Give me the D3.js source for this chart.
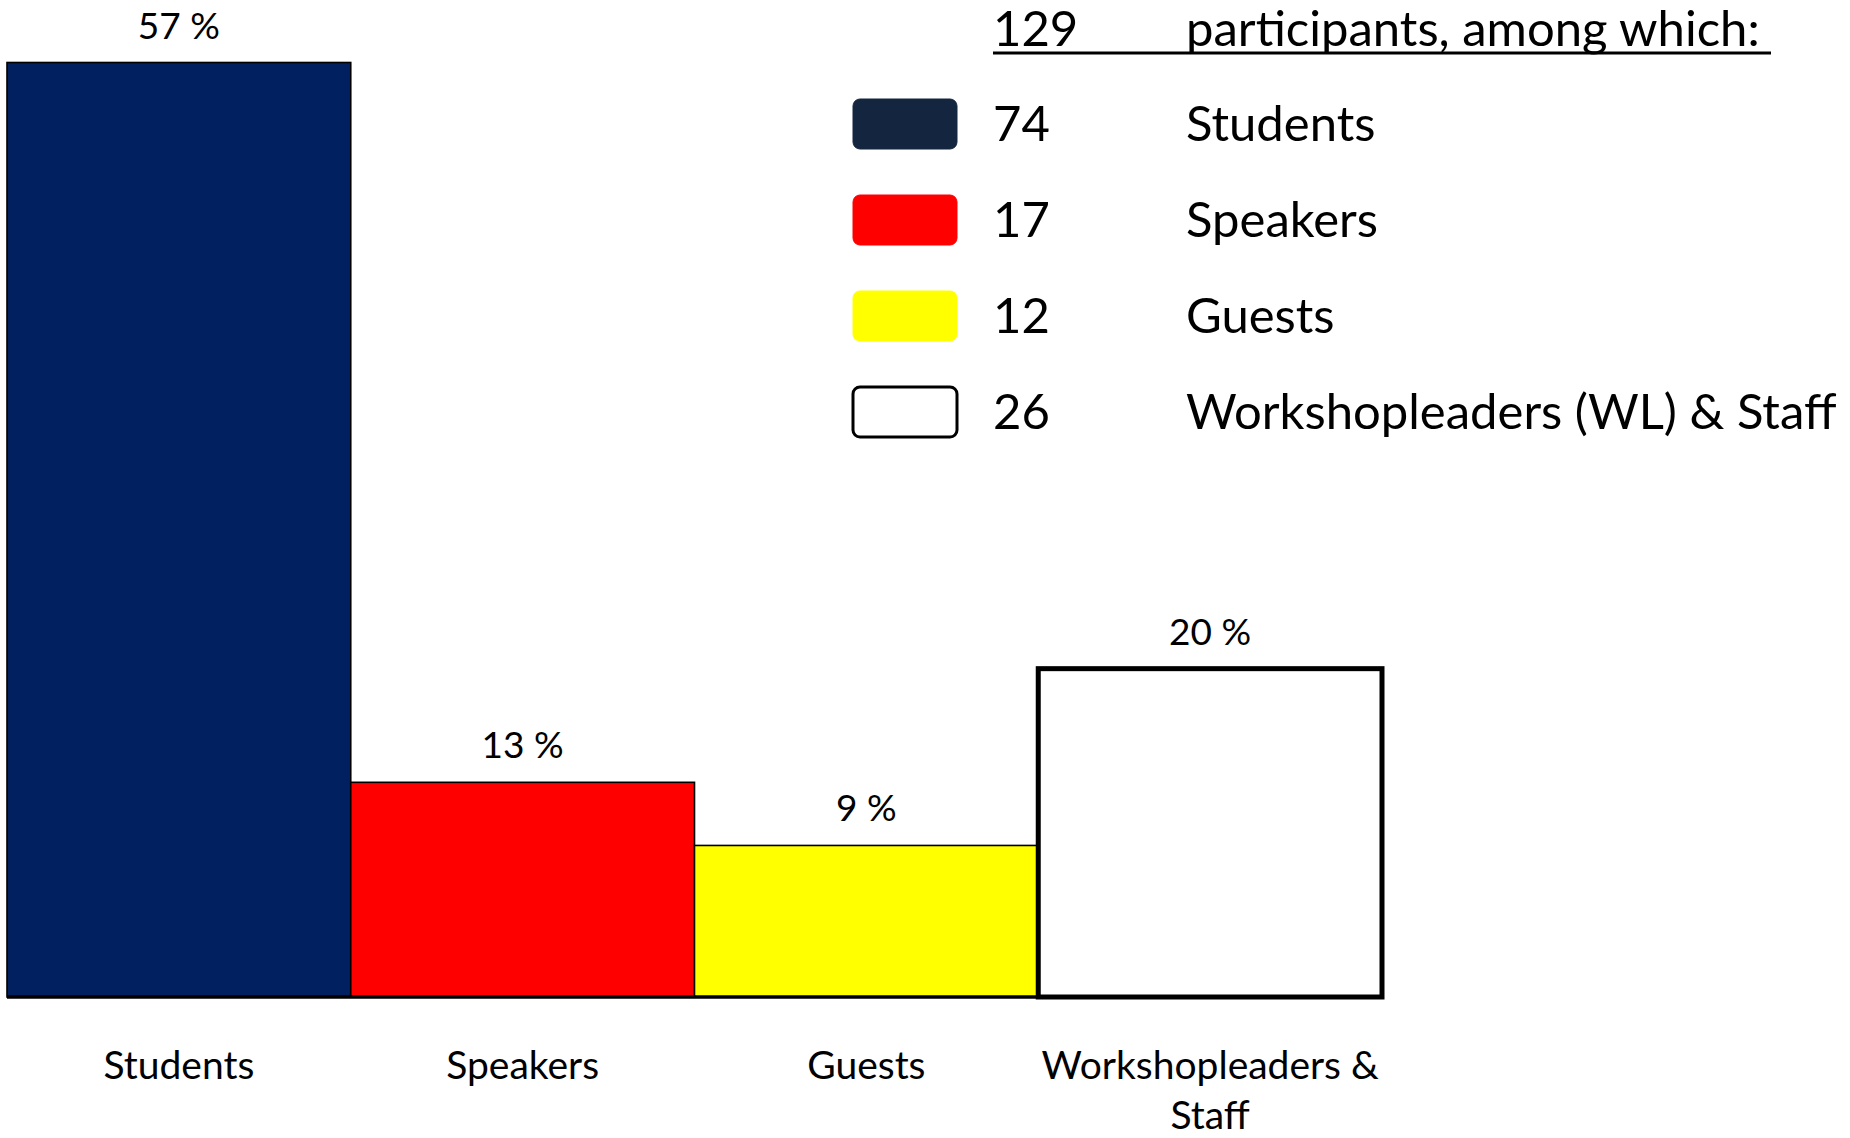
<!DOCTYPE html>
<html>
<head>
<meta charset="utf-8">
<script src="https://cdn.jsdelivr.net/npm/d3@7/dist/d3.min.js"></script>
<style>
  body { margin: 0; background: #fff; }
  svg { display: block; font-family: Lato, "Open Sans", sans-serif; }
</style>
</head>
<body>
<div id="chart"></div>
<script>
// data
var total = 129;
var categories = ["Students", "Speakers", "Guests", "Workshopleaders & Staff"];
var counts = [74, 17, 12, 26];
var tickLabels = [["Students"], ["Speakers"], ["Guests"], ["Workshopleaders &", "Staff"]];
var legendNames = ["Students", "Speakers", "Guests", "Workshopleaders (WL) & Staff"];
var headerText = "participants, among which:";

var barColours = ["#002060", "#ff0000", "#ffff00", "#ffffff"];
var legendColours = ["#14263f", "#ff0000", "#ffff00", "#ffffff"];

var width = 1850, height = 1138;
var baseY = 997;

var svg = d3.select("#chart").append("svg")
    .attr("width", width)
    .attr("height", height);

// set the ranges
var x = d3.scaleBand().domain(categories).range([7, 1382]).padding(0);
var y = d3.scaleLinear().domain([0, 74]).range([baseY, 62.5]);

var data = categories.map(function(c, i) {
  return {cat: c, count: counts[i], colour: barColours[i], ticks: tickLabels[i], last: i === 3};
});

// bars
svg.selectAll("rect.bar")
    .data(data)
  .enter().append("rect")
    .attr("class", "bar")
    .attr("x", function(d) { return x(d.cat); })
    .attr("y", function(d) { return y(d.count); })
    .attr("width", x.bandwidth())
    .attr("height", function(d) { return baseY - y(d.count); })
    .style("fill", function(d) { return d.colour; })
    .style("stroke", "#000")
    .style("stroke-width", function(d) { return d.last ? 5 : 1.6; });

// percent labels
svg.selectAll("text.pct")
    .data(data)
  .enter().append("text")
    .attr("class", "pct")
    .attr("x", function(d) { return x(d.cat) + x.bandwidth() / 2; })
    .attr("y", function(d) { return y(d.count) - 24; })
    .attr("text-anchor", "middle")
    .style("font-size", "37px")
    .text(function(d) { return Math.round(d.count / total * 100) + " %"; });

// x axis (baseline + category labels)
var xAxis = svg.append("g")
    .attr("transform", "translate(0," + baseY + ")")
    .call(d3.axisBottom(x).tickSize(0).tickFormat(""));
xAxis.select(".domain")
    .attr("d", "M" + x.range()[0] + ",0H" + x.range()[1])
    .style("stroke", "#000")
    .style("stroke-width", 3.5);

xAxis.selectAll(".tick text")
    .data(data)
    .attr("y", 0)
    .attr("dy", null)
    .style("font-size", "39px")
    .style("font-family", "Lato, sans-serif")
    .style("fill", "#000")
    .each(function(d) {
      var t = d3.select(this);
      d.ticks.forEach(function(line, j) {
        t.append("tspan")
          .attr("x", 0)
          .attr("y", 82 + j * 50)
          .text(line);
      });
    });

// legend header
var legX1 = 993, legX2 = 1186;
svg.append("text")
    .attr("x", legX1).attr("y", 46)
    .style("font-size", "49px")
    .text(total);
svg.append("text")
    .attr("x", legX2).attr("y", 46)
    .style("font-size", "49px")
    .text(headerText);
svg.append("line")
    .attr("x1", legX1).attr("x2", 1771)
    .attr("y1", 53).attr("y2", 53)
    .style("stroke", "#000")
    .style("stroke-width", 3);

// legend rows
var rowY = d3.scaleLinear().domain([0, 3]).range([124, 412]);
var legend = svg.selectAll("g.leg")
    .data(legendNames)
  .enter().append("g")
    .attr("class", "leg")
    .attr("transform", function(d, i) { return "translate(0," + rowY(i) + ")"; });

legend.append("rect")
    .attr("x", 853).attr("y", -25)
    .attr("width", 104).attr("height", 50)
    .attr("rx", 7).attr("ry", 7)
    .style("fill", function(d, i) { return legendColours[i]; })
    .style("stroke", function(d, i) { return i === 3 ? "#000" : legendColours[i]; })
    .style("stroke-width", function(d, i) { return i === 3 ? 3 : 1; });

legend.append("text")
    .attr("x", legX1).attr("y", 17)
    .style("font-size", "49px")
    .text(function(d, i) { return counts[i]; });

legend.append("text")
    .attr("x", legX2).attr("y", 17)
    .style("font-size", "49px")
    .text(function(d) { return d; });
</script>
</body>
</html>
